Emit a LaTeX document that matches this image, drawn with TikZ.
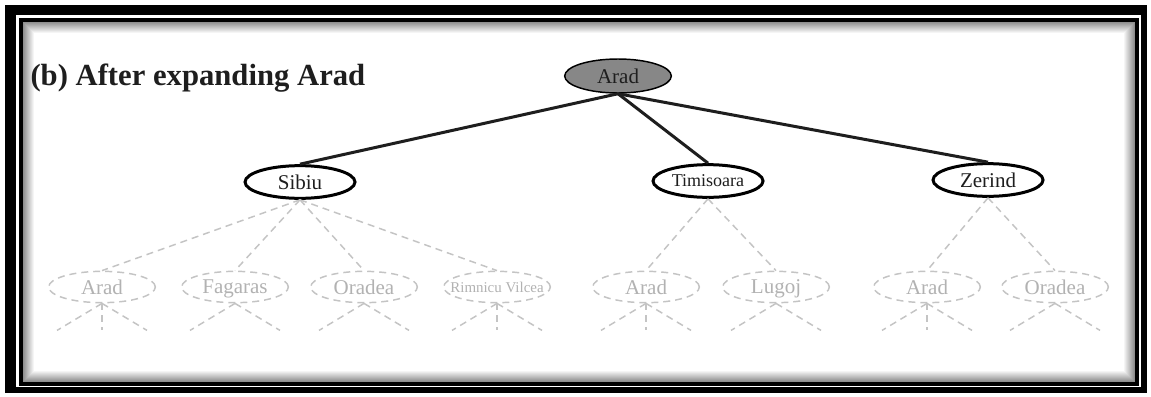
\documentclass[tikz,border=0pt]{standalone}
\usepackage{fontspec}
\setmainfont{Liberation Serif}
\usetikzlibrary{shapes.geometric}

\definecolor{rootgray}{RGB}{135,135,135}
\definecolor{ghostline}{RGB}{196,196,196}
\definecolor{ghosttext}{RGB}{178,178,178}
\definecolor{inkcolor}{RGB}{30,30,30}

\tikzset{every picture/.style={line width=0.75pt}}
\tikzset{
  city/.style={ellipse, draw, inner sep=0pt, text=inkcolor,
    minimum width=82.5pt, minimum height=24.5pt, text depth=0pt,
    font=\fontsize{15.75}{18}\selectfont},
  rootcity/.style={city, fill=rootgray, line width=1.1pt,
    minimum width=80pt, minimum height=25.5pt},
  opencity/.style={city, line width=2.25pt},
  ghostcity/.style={city, draw=ghostline, text=ghosttext, line width=1.1pt,
    dash pattern=on 5.25pt off 3.75pt, minimum width=80pt, minimum height=23.5pt},
  treeedge/.style={line width=2.25pt, draw=inkcolor},
  ghostedge/.style={draw=ghostline, line width=1.1pt, dash pattern=on 5.25pt off 3.75pt},
}

\begin{document}
\begin{tikzpicture}[x=0.75pt,y=-0.75pt]

\fill[white] (0,0) rectangle (1151,396);
\useasboundingbox (0,0) rectangle (1151,396);

\fill (5,5) rectangle (1147,393);
\fill[white] (16,15) rectangle (1141,387);
\draw[line width=3pt] (21,20) rectangle (1137,384);
\foreach \i [evaluate=\i as \g using int(48-4*\i)] in {1,...,11}
  \draw[black!\g] (22.5+\i,21.5+\i) rectangle (1135.5-\i,382.5-\i);

\node (title) at (30,85) [anchor=base west, inner sep=0pt, text=inkcolor,
  font=\bfseries\fontsize{23}{27}\selectfont] {(b) After expanding Arad};

\node (arad) at (618,76) [rootcity] {Arad};

\node (sibiu) at (300,182) [opencity] {Sibiu};
\node (timi) at (708,181) [opencity, font=\fontsize{13.5}{16}\selectfont] {Timisoara};
\node (zerind) at (988,180) [opencity] {Zerind};

\node (s1) at (102,287) [ghostcity] {Arad};
\node (s2) at (235,287) [ghostcity] {Fagaras};
\node (s3) at (364,287) [ghostcity] {Oradea};
\node (s4) at (497,287) [ghostcity, font=\fontsize{11.2}{13}\selectfont] {\makebox[0pt]{Rimnicu Vilcea}};
\node (t1) at (646,287) [ghostcity] {Arad};
\node (t2) at (776,287) [ghostcity] {Lugoj};
\node (z1) at (927,287) [ghostcity] {Arad};
\node (z2) at (1055,287) [ghostcity] {Oradea};

\draw[treeedge] (arad.south) -- (sibiu.north);
\draw[treeedge] (arad.south) -- (timi.north);
\draw[treeedge] (arad.south) -- (zerind.north);

\foreach \c in {s1,s2,s3,s4}
  \draw[ghostedge] (sibiu.south) -- (\c.north);
\foreach \c in {t1,t2}
  \draw[ghostedge] (timi.south) -- (\c.north);
\foreach \c in {z1,z2}
  \draw[ghostedge] (zerind.south) -- (\c.north);

\foreach \n in {s1,s2,s3,s4,t1,t2,z1,z2} {
  \coordinate (\n-l) at ([shift={(-45,27)}]\n.south);
  \coordinate (\n-r) at ([shift={(45,27)}]\n.south);
  \draw[ghostedge] (\n.south) -- (\n-l);
  \draw[ghostedge] (\n.south) -- (\n-r);
}
\foreach \n in {s1,s4,t1,z1} {
  \coordinate (\n-d) at ([shift={(0,27)}]\n.south);
  \draw[ghostedge] (\n.south) -- (\n-d);
}

\end{tikzpicture}
\end{document}
